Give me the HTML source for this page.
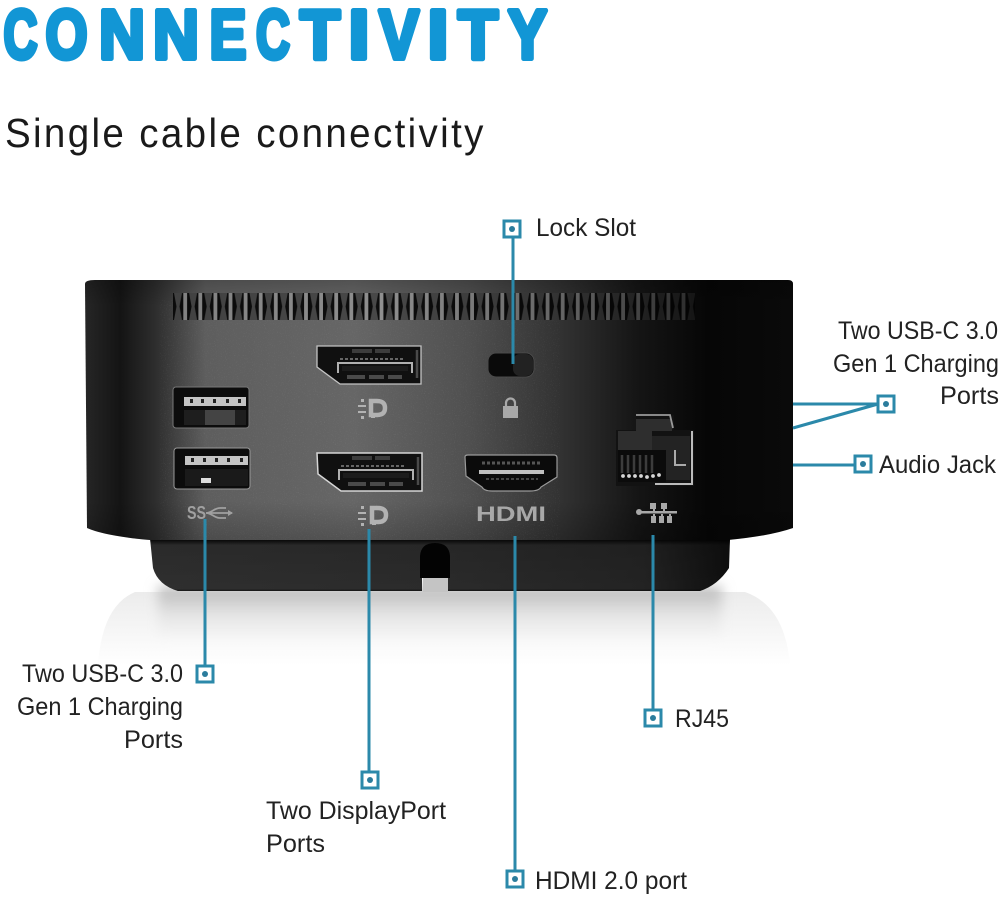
<!DOCTYPE html>
<html lang="en">
<head>
<meta charset="utf-8">
<title>Connectivity</title>
<style>
html,body{margin:0;padding:0;background:#fff;width:1000px;height:897px;overflow:hidden}
svg{display:block}
text{font-family:"Liberation Sans",sans-serif}
.lab{font-size:25px;fill:#222}
</style>
</head>
<body>
<svg width="1000" height="897" viewBox="0 0 1000 897" xmlns="http://www.w3.org/2000/svg">
<defs>
<linearGradient id="body" x1="85" x2="793" y1="0" y2="0" gradientUnits="userSpaceOnUse">
<stop offset="0" stop-color="#262626"/>
<stop offset=".05" stop-color="#141414"/>
<stop offset=".1" stop-color="#2e2e2e"/>
<stop offset=".17" stop-color="#5e5e5e"/>
<stop offset=".38" stop-color="#666"/>
<stop offset=".54" stop-color="#505050"/>
<stop offset=".68" stop-color="#303030"/>
<stop offset=".78" stop-color="#151515"/>
<stop offset=".88" stop-color="#060606"/>
<stop offset="1" stop-color="#0a0a0a"/>
</linearGradient>
<linearGradient id="shade" x1="0" x2="0" y1="280" y2="540" gradientUnits="userSpaceOnUse">
<stop offset="0" stop-color="#000" stop-opacity=".2"/>
<stop offset=".1" stop-color="#000" stop-opacity="0"/>
<stop offset=".85" stop-color="#000" stop-opacity="0"/>
<stop offset="1" stop-color="#000" stop-opacity=".2"/>
</linearGradient>
<linearGradient id="base" x1="150" x2="730" y1="0" y2="0" gradientUnits="userSpaceOnUse">
<stop offset="0" stop-color="#2f2f2f"/>
<stop offset=".5" stop-color="#2b2b2b"/>
<stop offset=".85" stop-color="#232323"/>
<stop offset="1" stop-color="#0e0e0e"/>
</linearGradient>
<linearGradient id="baseV" x1="0" x2="0" y1="540" y2="592" gradientUnits="userSpaceOnUse">
<stop offset="0" stop-color="#000" stop-opacity=".8"/>
<stop offset=".1" stop-color="#000" stop-opacity=".1"/>
<stop offset=".94" stop-color="#000" stop-opacity="0"/>
<stop offset="1" stop-color="#000" stop-opacity=".8"/>
</linearGradient>
<linearGradient id="refl" x1="0" x2="0" y1="590" y2="650" gradientUnits="userSpaceOnUse">
<stop offset="0" stop-color="#bdbdbd"/>
<stop offset=".4" stop-color="#e4e4e4"/>
<stop offset="1" stop-color="#fff"/>
</linearGradient>
<linearGradient id="reflOut" x1="0" x2="0" y1="590" y2="665" gradientUnits="userSpaceOnUse">
<stop offset="0" stop-color="#ebebeb"/>
<stop offset="1" stop-color="#fff"/>
</linearGradient>
<linearGradient id="ventFade" x1="173" x2="695" y1="0" y2="0" gradientUnits="userSpaceOnUse">
<stop offset="0" stop-color="#000" stop-opacity=".1"/>
<stop offset=".4" stop-color="#000" stop-opacity="0"/>
<stop offset=".75" stop-color="#000" stop-opacity=".3"/>
<stop offset="1" stop-color="#000" stop-opacity=".7"/>
</linearGradient>
<pattern id="vent" x="173" y="293" width="15.1" height="27" patternUnits="userSpaceOnUse">
<rect width="15.100" height="27" fill="#0c0c0c"/>
<path d="M1,0H9L6.500,13.500 9,27H1L3.500,13.500Z" fill="#484848"/>
<rect x="10.300" width="3.800" height="27" fill="#8f8f8f"/>
</pattern>
<filter id="grain" x="0" y="0" width="100%" height="100%">
<feTurbulence type="fractalNoise" baseFrequency=".9" numOctaves="2" seed="4"/>
<feColorMatrix values="0 0 0 0 1 0 0 0 0 1 0 0 0 0 1 1.600 0 0 0 -.95"/>
</filter>
<filter id="soft" x="-5%" y="-20%" width="110%" height="140%"><feGaussianBlur stdDeviation="6"/></filter>
<clipPath id="bc"><path d="M85,284Q85,280 95,280L788,280Q793,280 793,284L793,528Q770,536 728,540L150,540Q105,536 87,528Z"/></clipPath>
</defs>

<rect width="1000" height="897" fill="#fff"/>

<text y="58.500" font-size="70" font-weight="700" fill="#1296d5" stroke="#1296d5" stroke-width="5" stroke-linejoin="round"><tspan x="3.500" textLength="34" lengthAdjust="spacingAndGlyphs">C</tspan><tspan x="45.500" textLength="42" lengthAdjust="spacingAndGlyphs">O</tspan><tspan x="99" textLength="46" lengthAdjust="spacingAndGlyphs">N</tspan><tspan x="153" textLength="46" lengthAdjust="spacingAndGlyphs">N</tspan><tspan x="209.500" textLength="37" lengthAdjust="spacingAndGlyphs">E</tspan><tspan x="256" textLength="34" lengthAdjust="spacingAndGlyphs">C</tspan><tspan x="300" textLength="40" lengthAdjust="spacingAndGlyphs">T</tspan><tspan x="348.500" textLength="21" lengthAdjust="spacingAndGlyphs">I</tspan><tspan x="379" textLength="40" lengthAdjust="spacingAndGlyphs">V</tspan><tspan x="427.500" textLength="21" lengthAdjust="spacingAndGlyphs">I</tspan><tspan x="458" textLength="40" lengthAdjust="spacingAndGlyphs">T</tspan><tspan x="508" textLength="39" lengthAdjust="spacingAndGlyphs">Y</tspan></text>
<text transform="scale(.94,1)" x="5.300" y="147" font-size="41" fill="#1a1a1a" textLength="509" lengthAdjust="spacing">Single cable connectivity</text>

<!-- reflection -->
<path d="M98,665Q102,606 135,592L745,592Q785,606 790,665Z" fill="url(#reflOut)"/>
<rect x="158" y="586" width="564" height="64" fill="url(#refl)" filter="url(#soft)"/>

<!-- base -->
<path d="M150,538L730,538L729,568Q718,585 700,591L448,591L448,578L422,578L422,591L178,591Q158,585 153,568Z" fill="url(#base)"/>
<path d="M150,538L730,538L729,568Q718,585 700,591L448,591L448,578L422,578L422,591L178,591Q158,585 153,568Z" fill="url(#baseV)"/>
<path d="M420,578L420,556Q421,543 435,543Q449,543 450,556L450,578Z" fill="#030303"/>
<rect x="423" y="578" width="25" height="14" fill="#c4c4c4"/>

<!-- body -->
<path d="M85,284Q85,280 95,280L788,280Q793,280 793,284L793,528Q770,536 728,540L150,540Q105,536 87,528Z" fill="url(#body)"/>
<path d="M85,284Q85,280 95,280L788,280Q793,280 793,284L793,528Q770,536 728,540L150,540Q105,536 87,528Z" fill="url(#shade)"/>
<rect x="160" y="300" width="400" height="240" filter="url(#grain)" opacity=".2" clip-path="url(#bc)"/>

<!-- vent -->
<rect x="173" y="293" width="522" height="27" fill="url(#vent)"/>
<rect x="173" y="293" width="522" height="27" fill="url(#ventFade)"/>

<!-- USB ports -->
<g>
<rect x="173" y="387" width="76" height="41" rx="3" fill="#0c0c0c" stroke="#777" stroke-width="1"/>
<rect x="184" y="397" width="62" height="9" fill="#c4c4c4"/>
<g fill="#222"><rect x="190" y="399" width="3" height="4"/><rect x="201" y="399" width="3" height="4"/><rect x="213" y="399" width="3" height="4"/><rect x="226" y="399" width="3" height="4"/><rect x="238" y="399" width="3" height="4"/></g>
<path d="M184,410H246V425H184Z" fill="#1e1e1e"/>
<path d="M205,410h30v15h-30z" fill="#444"/>
<rect x="174" y="448" width="76" height="41" rx="3" fill="#0c0c0c" stroke="#999" stroke-width="1"/>
<rect x="185" y="456" width="63" height="9" fill="#c4c4c4"/>
<g fill="#222"><rect x="191" y="458" width="3" height="4"/><rect x="203" y="458" width="3" height="4"/><rect x="215" y="458" width="3" height="4"/><rect x="227" y="458" width="3" height="4"/><rect x="240" y="458" width="3" height="4"/></g>
<path d="M185,469H248V486H185Z" fill="#1a1a1a"/>
<rect x="201" y="478" width="10" height="5" fill="#ddd"/>
</g>

<!-- DP ports -->
<g>
<path d="M317,346H421V384H340L317,367Z" fill="#101010" stroke="#c4c4c4" stroke-width="1.300"/>
<path d="M338,373V363H412V373" fill="none" stroke="#b0b0b0" stroke-width="2"/>
<rect x="342" y="366" width="66" height="5" fill="#1c1c1c"/>
<path d="M352,351H372M375,351H390" stroke="#3c3c3c" stroke-width="4"/>
<path d="M340,359H405" stroke="#666" stroke-width="2" stroke-dasharray="3 2"/>
<path d="M347,377H365M369,377H384M388,377H402" stroke="#4a4a4a" stroke-width="4"/>
<path d="M417,350V378" stroke="#4a4a4a" stroke-width="2.500"/>
</g>
<g>
<path d="M317,453H422V491H341L318,474Z" fill="#101010" stroke="#d6d6d6" stroke-width="1.500"/>
<path d="M339,480V470H413V480" fill="none" stroke="#b0b0b0" stroke-width="2"/>
<rect x="343" y="473" width="66" height="5" fill="#1c1c1c"/>
<path d="M352,458H372M375,458H390" stroke="#3c3c3c" stroke-width="4"/>
<path d="M341,466H406" stroke="#666" stroke-width="2" stroke-dasharray="3 2"/>
<path d="M348,484H366M370,484H385M389,484H403" stroke="#4a4a4a" stroke-width="4"/>
<path d="M418,457V485" stroke="#4a4a4a" stroke-width="2.500"/>
</g>

<!-- DP logos -->
<g fill="none" stroke="#b2b2b2" stroke-width="4.500">
<path d="M371,401H377Q385,401 385,408Q385,415 377,415H371Z"/>
<path d="M372,508H378Q386,508 386,515Q386,522 378,522H372Z"/>
</g>
<g fill="#b2b2b2">
<rect x="371" y="414" width="4" height="4"/><rect x="372" y="521" width="4" height="4"/>
<rect x="361" y="399" width="3" height="3"/><rect x="358" y="405" width="8" height="2"/><rect x="358" y="411" width="8" height="2"/><rect x="361" y="416" width="3" height="3"/>
<rect x="361" y="506" width="3" height="3"/><rect x="358" y="512" width="8" height="2"/><rect x="358" y="518" width="8" height="2"/><rect x="361" y="523" width="3" height="3"/>
</g>

<!-- Lock slot -->
<rect x="488" y="353" width="46" height="24" rx="8" fill="#0a0a0a" stroke="#4a4a4a" stroke-width="1"/>
<rect x="513" y="354" width="20" height="22" rx="7" fill="#222"/>
<path d="M503,406h15v12h-15z" fill="#a8a8a8"/>
<path d="M506,406v-3a4.500,4.500 0 0 1 9,0v3" fill="none" stroke="#a8a8a8" stroke-width="2.200"/>

<!-- HDMI -->
<path d="M465,457Q465,455 468,455H554Q557,455 557,458V477L541,487Q539,491 530,491H492Q484,491 482,487L466,476Z" fill="#0b0b0b" stroke="#9a9a9a" stroke-width="1.200"/>
<rect x="479" y="470" width="65" height="4" fill="#c0c0c0"/>
<path d="M482,463H542" stroke="#555" stroke-width="3" stroke-dasharray="3 2"/>
<path d="M486,479H538" stroke="#444" stroke-width="2" stroke-dasharray="3 2"/>
<text x="476" y="521" font-size="21" font-weight="700" fill="#a8a8a8" textLength="70" lengthAdjust="spacingAndGlyphs">HDMI</text>

<!-- USB SS logo -->
<text x="187" y="519" font-size="18" font-weight="700" fill="#a0a0a0" textLength="19" lengthAdjust="spacingAndGlyphs">SS</text>
<path d="M206,513C212,513 214,508 220,508H226M206,513C212,513 214,518 220,518H226M206,513H232" fill="none" stroke="#a0a0a0" stroke-width="1.800"/>
<path d="M228,510l5,3-5,3z" fill="#a0a0a0"/>

<!-- RJ45 -->
<path d="M616,430H636V415H674V430H694V486H616Z" fill="#121212"/>
<path d="M618,431H636V419H672V431H652V450H618Z" fill="#2e2e2e"/>
<path d="M652,436H690V480H666V450H652Z" fill="#232323"/>
<path d="M618,450H666V482H618Z" fill="#0b0b0b"/>
<g stroke="#3c3c3c" stroke-width="2.500"><path d="M622,455V473M628,455V473M634,455V473M640,455V473M646,455V473M652,455V473"/></g>
<g fill="#d6d6d6"><circle cx="623" cy="476" r="1.900"/><circle cx="629" cy="476" r="1.900"/><circle cx="635" cy="476" r="1.900"/><circle cx="641" cy="476" r="1.900"/><circle cx="647" cy="477" r="1.900"/><circle cx="653" cy="476" r="1.900"/><circle cx="659" cy="475" r="1.900"/></g>
<path d="M692,431V484H655" fill="none" stroke="#bbb" stroke-width="2"/>
<path d="M636,415H670L673,428" fill="none" stroke="#9a9a9a" stroke-width="1.800"/>
<path d="M675,450V465H686" fill="none" stroke="#aaa" stroke-width="2"/>

<!-- Network logo -->
<g fill="#a8a8a8">
<rect x="650" y="503" width="6" height="6"/><rect x="661" y="503" width="6" height="6"/>
<rect x="641" y="511" width="36" height="2.500"/>
<circle cx="639" cy="512" r="3"/>
<rect x="651" y="516" width="5" height="7"/><rect x="659" y="516" width="5" height="7"/><rect x="667" y="516" width="5" height="7"/>
<path d="M653,509h2v2h-2zM663,509h2v2h-2zM653,514h2v2h-2zM661,514h2v2h-2zM669,514h2v2h-2z"/>
</g>

<!-- connectors -->
<g stroke="#2b89aa" stroke-width="3" fill="none">
<path d="M513,238V364"/>
<path d="M205,519V666"/>
<path d="M369,529V771"/>
<path d="M515,536V870"/>
<path d="M653,535V710"/>
<path d="M793,404H878"/>
<path d="M793,428L878,404"/>
<path d="M793,465H855"/>
</g>

<!-- markers -->
<g fill="#fff" stroke="#2b89aa" stroke-width="3">
<rect x="504" y="221" width="16" height="16"/>
<rect x="197" y="666" width="16" height="16"/>
<rect x="362" y="772" width="16" height="16"/>
<rect x="507" y="871" width="16" height="16"/>
<rect x="645" y="710" width="16" height="16"/>
<rect x="878" y="396" width="16" height="16"/>
<rect x="855" y="456" width="16" height="16"/>
</g>
<g fill="#2b7c9c">
<circle cx="512" cy="229" r="3"/>
<circle cx="205" cy="674" r="3"/>
<circle cx="370" cy="780" r="3"/>
<circle cx="515" cy="879" r="3"/>
<circle cx="653" cy="718" r="3"/>
<circle cx="886" cy="404" r="3"/>
<circle cx="863" cy="464" r="3"/>
</g>

<!-- labels -->
<text class="lab" x="536" y="236" textLength="100" lengthAdjust="spacingAndGlyphs">Lock Slot</text>
<text class="lab" x="838" y="339" textLength="160" lengthAdjust="spacingAndGlyphs">Two USB-C 3.0</text>
<text class="lab" x="833" y="372" textLength="166" lengthAdjust="spacingAndGlyphs">Gen 1 Charging</text>
<text class="lab" x="940" y="404" textLength="59" lengthAdjust="spacingAndGlyphs">Ports</text>
<text class="lab" x="879" y="473" textLength="117" lengthAdjust="spacingAndGlyphs">Audio Jack</text>
<text class="lab" x="22" y="682" textLength="161" lengthAdjust="spacingAndGlyphs">Two USB-C 3.0</text>
<text class="lab" x="17" y="715" textLength="166" lengthAdjust="spacingAndGlyphs">Gen 1 Charging</text>
<text class="lab" x="124" y="748" textLength="59" lengthAdjust="spacingAndGlyphs">Ports</text>
<text class="lab" x="675" y="727" textLength="54" lengthAdjust="spacingAndGlyphs">RJ45</text>
<text class="lab" x="266" y="819" textLength="180" lengthAdjust="spacingAndGlyphs">Two DisplayPort</text>
<text class="lab" x="266" y="852" textLength="59" lengthAdjust="spacingAndGlyphs">Ports</text>
<text class="lab" x="535" y="889" textLength="152" lengthAdjust="spacingAndGlyphs">HDMI 2.0 port</text>
</svg>
</body>
</html>
